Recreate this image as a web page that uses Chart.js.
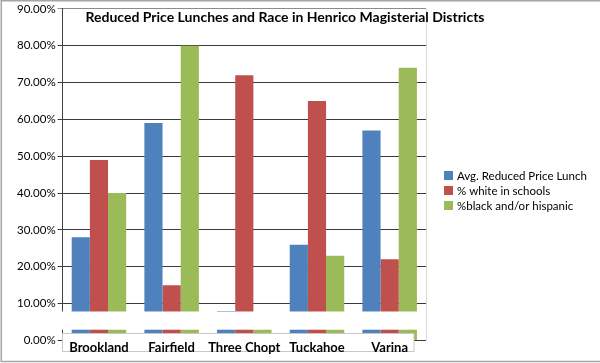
<!DOCTYPE html>
<html>
<head>
<meta charset="utf-8">
<script src="https://cdn.jsdelivr.net/npm/chart.js@4"></script>
<style>
  html, body { margin: 0; padding: 0; background: #fff; }
</style>
</head>
<body>
<canvas id="chart" width="600" height="363"></canvas>
<script>
const districts = ['Brookland', 'Fairfield', 'Three Chopt', 'Tuckahoe', 'Varina'];
const seriesNames = ['Avg. Reduced Price Lunch', '% white in schools', '%black and/or hispanic'];
const reducedLunch = [0.28, 0.59, 0.08, 0.26, 0.57];
const whiteShare = [0.49, 0.15, 0.72, 0.65, 0.22];
const blackHispanicShare = [0.40, 0.80, 0.05, 0.23, 0.74];
const yTicks = [0, 0.1, 0.2, 0.3, 0.4, 0.5, 0.6, 0.7, 0.8, 0.9];
const chartTitle = 'Reduced Price Lunches and Race in Henrico Magisterial Districts';

Chart.defaults.font.family = 'Lato';
Chart.defaults.color = '#000';

// light border on the right side of the plot
const plotEdge = {
    id: 'plotEdge',
    beforeDatasetsDraw(chart) {
        const { ctx, chartArea } = chart;
        const x = Math.round(chartArea.right) + 0.5;
        ctx.save();
        ctx.strokeStyle = '#d9d9d9';
        ctx.lineWidth = 1;
        ctx.beginPath();
        ctx.moveTo(x, chartArea.top);
        ctx.lineTo(x, chartArea.bottom);
        ctx.stroke();
        ctx.restore();
    }
};

// white band + label box that sit over the bottom of the bars
const labelBox = {
    id: 'labelBox',
    afterDatasetsDraw(chart) {
        const { ctx, chartArea, scales: { y } } = chart;
        const bandTop = y.getPixelForValue(0.0785);
        const bandBottom = y.getPixelForValue(0.029);
        const boxTop = Math.round(y.getPixelForValue(0.021)) + 0.5;
        const boxBottom = Math.round(y.getPixelForValue(0)) + 11.5;
        const bx = Math.round(chartArea.left) - 0.5;
        const bw = chartArea.right - 12 - bx;

        ctx.save();
        ctx.fillStyle = '#fff';
        ctx.fillRect(chartArea.left - 4, bandTop, chartArea.right - chartArea.left + 3.5, bandBottom - bandTop);
        ctx.fillRect(bx, boxTop, bw, boxBottom - boxTop);
        ctx.strokeStyle = '#c8c8c8';
        ctx.lineWidth = 1;
        ctx.strokeRect(bx, boxTop, bw, boxBottom - boxTop);
        ctx.restore();
    }
};

// legend on the right, title over the plot, outer frame
const titleLegendFrame = {
    id: 'titleLegendFrame',
    afterDraw(chart) {
        const { ctx, chartArea } = chart;
        ctx.save();
        ctx.font = 'bold 14px Lato';
        ctx.fillStyle = '#000';
        ctx.textAlign = 'center';
        ctx.textBaseline = 'middle';
        ctx.fillText(chartTitle, 285, 17);

        ctx.font = '11.5px Lato';
        ctx.textAlign = 'left';
        const lx = chartArea.right + 18;
        chart.data.datasets.forEach((ds, i) => {
            const top = 171 + i * 15;
            ctx.fillStyle = ds.backgroundColor;
            ctx.fillRect(lx, top, 9, 9);
            ctx.fillStyle = '#000';
            ctx.fillText(ds.label, lx + 13, top + 5);
        });

        ctx.strokeStyle = '#a6a6a6';
        ctx.lineWidth = 1.5;
        ctx.beginPath();
        ctx.moveTo(600, 0.75);
        ctx.lineTo(1.25, 0.75);
        ctx.lineTo(1.25, 361.5);
        ctx.lineTo(600, 361.5);
        ctx.stroke();
        ctx.restore();
    }
};

new Chart(document.getElementById('chart'), {
    type: 'bar',
    data: {
        labels: districts,
        datasets: [
            { label: seriesNames[0], data: reducedLunch, backgroundColor: '#4F81BD' },
            { label: seriesNames[1], data: whiteShare, backgroundColor: '#C0504D' },
            { label: seriesNames[2], data: blackHispanicShare, backgroundColor: '#9BBB59' }
        ]
    },
    options: {
        responsive: false,
        animation: false,
        devicePixelRatio: 1,
        categoryPercentage: 0.75,
        barPercentage: 1.0,
        layout: { padding: { left: 15, top: 8, right: 174, bottom: 7 } },
        plugins: {
            legend: { display: false },
            tooltip: { enabled: false }
        },
        scales: {
            x: {
                grid: { display: false, drawTicks: false },
                border: { display: false },
                ticks: { z: 1, padding: 0, maxRotation: 0, autoSkip: false, font: { size: 13, weight: 'bold' } }
            },
            y: {
                min: 0,
                max: 0.9,
                afterBuildTicks: s => { s.ticks = yTicks.map(v => ({ value: v })); },
                grid: {
                    tickLength: 5,
                    color: c => (c.tick && c.tick.value === 0.9 ? '#8c8c8c' : '#3a3a3a')
                },
                border: { color: '#404040' },
                ticks: { padding: 2, font: { size: 11.5 }, callback: v => (v * 100).toFixed(2) + '%' }
            }
        }
    },
    plugins: [plotEdge, labelBox, titleLegendFrame]
});
</script>
</body>
</html>
